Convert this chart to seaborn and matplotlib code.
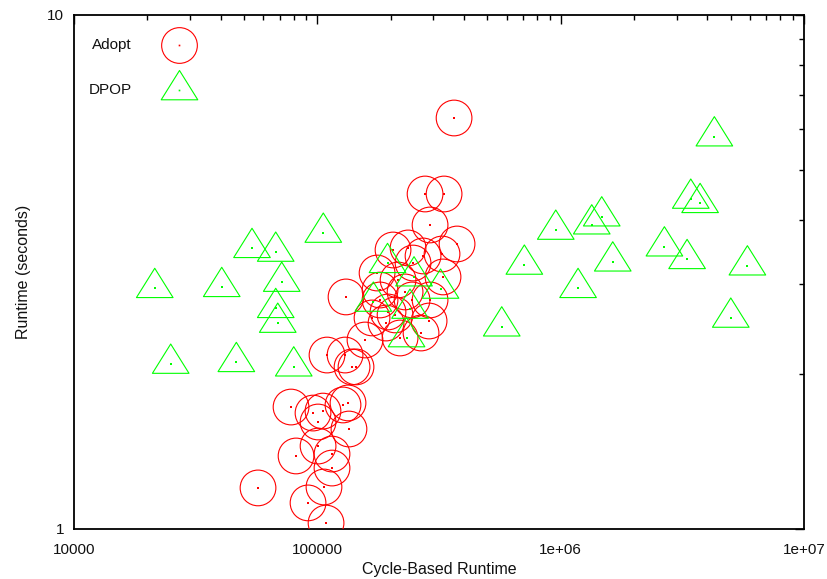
import numpy as np
import pandas as pd
import matplotlib
matplotlib.use("Agg")
import matplotlib.pyplot as plt
import seaborn as sns
from matplotlib.markers import MarkerStyle
from matplotlib.path import Path
from matplotlib.ticker import FixedLocator, FixedFormatter, LogLocator, NullFormatter

# ---- data ----
adopt_cycles = [364700, 277200, 331800, 290600, 375200, 204700, 236000, 271900,
                325400, 328500, 247400, 176000, 131200, 214700, 229400, 181000,
                195200, 167800, 208700, 245100, 191600, 287900, 266800, 218800,
                157000, 109600, 130000, 138900, 144200, 77980, 96000, 105500,
                100700, 127500, 133700, 134900, 100700, 81760, 114900, 114900,
                57050, 106500, 91580, 108600, 181000, 290600]
adopt_runtime = [6.304, 4.485, 4.485, 3.904, 3.585, 3.49, 3.522, 3.398,
                 3.428, 3.093, 3.292, 3.148, 2.828, 3.051, 2.892, 2.79,
                 2.644, 2.574, 2.609, 2.79, 2.516, 2.539, 2.406, 2.353,
                 2.332, 2.18, 2.18, 2.067, 2.067, 1.727, 1.681, 1.696,
                 1.615, 1.743, 1.759, 1.565, 1.45, 1.387, 1.399, 1.314,
                 1.202, 1.207, 1.124, 1.027, 2.917, 2.79]

dpop_cycles = [21470, 24970, 40470, 46470, 53890, 67450, 71400, 67450,
               68760, 79990, 105800, 169900, 194300, 249700, 320900, 240400,
               232600, 572600, 709200, 954700, 1179000, 1342000, 1475000,
               1637000, 2669000, 3308000, 3425000, 3741000, 4282000, 5002000,
               5853000]
dpop_runtime = [2.94, 2.094, 2.953, 2.11, 3.517, 3.459, 3.023, 2.688,
                2.516, 2.069, 3.766, 2.765, 3.288, 3.097, 2.931, 2.679,
                2.358, 2.475, 3.264, 3.817, 2.94, 3.909, 4.052,
                3.311, 3.542, 3.347, 4.386, 4.302, 5.799, 2.574,
                3.253]

series_labels = ["Adopt", "DPOP"]
series_colors = ["#ff0000", "#00ff00"]
x_ticks = [1e4, 1e5, 1e6, 1e7]
x_tick_labels = ["10000", "100000", "1e+06", "1e+07"]
y_ticks = [1, 10]
y_tick_labels = ["1", "10"]
x_label = "Cycle-Based Runtime"
y_label = "Runtime (seconds)"

adopt_df = pd.DataFrame({"cycles": adopt_cycles, "runtime": adopt_runtime})
dpop_df = pd.DataFrame({"cycles": dpop_cycles, "runtime": dpop_runtime})

# ---- style ----
sns.set_theme(style="white")
plt.rcParams["font.family"] = ["Liberation Sans", "DejaVu Sans"]
FS = 11
LFS = 11.5
TXT = "#111111"

fig = plt.figure(figsize=(8.28, 5.79), dpi=100)
ax = fig.add_axes([74 / 828, 1 - 529 / 579, 730 / 828, 514 / 579])
ax.set_xscale("log")
ax.set_yscale("log")

tri_path = Path([(-18.3, -9.3), (18.3, -9.3), (0, 20), (-18.3, -9.3)],
                [Path.MOVETO, Path.LINETO, Path.LINETO, Path.CLOSEPOLY])
tri_marker = MarkerStyle(tri_path)
CIRC_MS = 25.7
TRI_MS = 28.8
LW = 0.8
DOT_MS = 1.2

sns.scatterplot(data=adopt_df, x="cycles", y="runtime", marker="o", s=CIRC_MS ** 2,
                facecolors="none", edgecolor=series_colors[0], linewidth=LW,
                legend=False, ax=ax, zorder=3)
sns.scatterplot(data=adopt_df, x="cycles", y="runtime", marker="s", s=DOT_MS ** 2,
                color=series_colors[0], linewidth=0, legend=False, ax=ax, zorder=3)
sns.scatterplot(data=dpop_df, x="cycles", y="runtime", marker=tri_marker, s=TRI_MS ** 2,
                facecolors="none", edgecolor=series_colors[1], linewidth=LW,
                legend=False, ax=ax, zorder=4)
sns.scatterplot(data=dpop_df, x="cycles", y="runtime", marker="s", s=DOT_MS ** 2,
                color=series_colors[1], linewidth=0, legend=False, ax=ax, zorder=4)

ax.set_xlim(x_ticks[0], x_ticks[-1])
ax.set_ylim(y_ticks[0], y_ticks[-1])
ax.xaxis.set_major_locator(FixedLocator(x_ticks))
ax.xaxis.set_major_formatter(FixedFormatter(x_tick_labels))
ax.yaxis.set_major_locator(FixedLocator(y_ticks))
ax.yaxis.set_major_formatter(FixedFormatter(y_tick_labels))
for axis in (ax.xaxis, ax.yaxis):
    axis.set_minor_locator(LogLocator(base=10, subs=np.arange(2, 10), numticks=20))
    axis.set_minor_formatter(NullFormatter())

ax.tick_params(which="both", direction="in", top=True, right=True,
               color="black", labelcolor=TXT, labelsize=FS)
ax.tick_params(which="major", length=6.5, width=1.0)
ax.tick_params(which="minor", length=3.3, width=1.0)
ax.tick_params(axis="x", which="major", pad=10)
ax.tick_params(axis="y", which="major", pad=7)
for sp in ax.spines.values():
    sp.set_color("black")
    sp.set_linewidth(1.3)

ax.set_xlabel(x_label, fontsize=LFS, color=TXT, labelpad=4)
ax.set_ylabel(y_label, fontsize=LFS, color=TXT, labelpad=12)

# ---- key (gnuplot style: right-justified text, sample to its right) ----
key_text_x = 0.079
key_sample_x = 0.1442
key_rows_y = [0.9416, 0.854]
key_markers = ["o", tri_marker]
key_sizes = [CIRC_MS, TRI_MS]
for lab, col, mk, ms, ky in zip(series_labels, series_colors, key_markers, key_sizes, key_rows_y):
    ax.text(key_text_x, ky, lab, transform=ax.transAxes, ha="right", va="center",
            fontsize=FS, color=TXT)
    ax.plot([key_sample_x], [ky], transform=ax.transAxes, marker=mk, markersize=ms,
            markerfacecolor="none", markeredgecolor=col, markeredgewidth=LW,
            linestyle="none", clip_on=False, zorder=5)
    ax.plot([key_sample_x], [ky], transform=ax.transAxes, marker="s", markersize=DOT_MS,
            markerfacecolor=col, markeredgewidth=0, linestyle="none",
            clip_on=False, zorder=5)

fig.savefig("out.png", dpi=100)
